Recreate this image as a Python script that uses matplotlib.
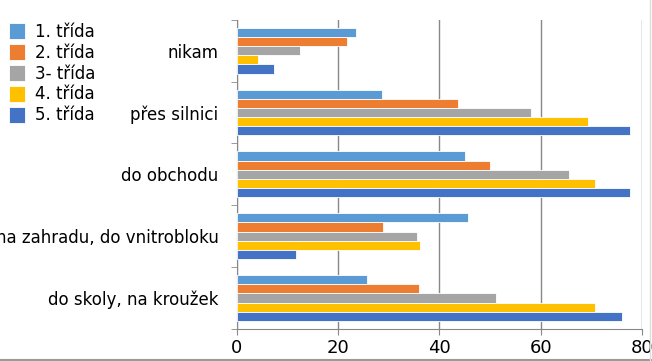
import numpy as np
import matplotlib.pyplot as plt

categories = ["nikam", "přes silnici", "do obchodu", "na zahradu, do vnitrobloku", "do skoly, na kroužek"]
series_names = ["1. třída", "2. třída", "3- třída", "4. třída", "5. třída"]
trida1 = [23.6, 28.7, 45.1, 45.7, 25.8]
trida2 = [21.8, 43.7, 49.9, 28.9, 36.0]
trida3 = [12.5, 58.0, 65.5, 35.6, 51.2]
trida4 = [4.3, 69.4, 70.6, 36.2, 70.6]
trida5 = [7.4, 77.5, 77.5, 11.7, 76.0]
x_ticks = [0, 20, 40, 60, 80]

colors = ["#5B9BD5", "#ED7D31", "#A5A5A5", "#FFC000", "#4472C4"]


def main():
    fig = plt.figure(figsize=(6.52, 3.61), dpi=100)
    ax = fig.add_axes([0.363, 0.089, 0.622, 0.856])

    series = [trida1, trida2, trida3, trida4, trida5]
    n = len(categories)
    centers = np.arange(n)
    bar_h = 0.148
    for i, (vals, name, col) in enumerate(zip(series, series_names, colors)):
        offs = (i - 2) * bar_h
        ax.barh(centers + offs, vals, height=bar_h, color=col, edgecolor="white",
                linewidth=0.6, label=name, zorder=3)

    ax.set_ylim(n - 0.5, -0.5)
    ax.set_xlim(0, 80)
    ax.set_xticks(x_ticks)
    ax.set_xticklabels([str(t) for t in x_ticks], fontsize=13)
    ax.set_yticks(centers)
    ax.set_yticklabels(categories, fontsize=12)
    ax.set_yticks(np.arange(n + 1) - 0.5, minor=True)
    ax.tick_params(axis="y", which="major", length=0, pad=13)
    ax.tick_params(axis="y", which="minor", length=4, color="#888888")
    ax.tick_params(axis="x", length=4, color="#888888", pad=3)

    ax.grid(axis="x", color="#888888", linewidth=1, zorder=0)
    for side in ["top", "right"]:
        ax.spines[side].set_visible(False)
    ax.spines["left"].set_color("#888888")
    ax.spines["bottom"].set_color("#888888")

    fig.legend(loc="upper left", bbox_to_anchor=(0.004, 0.955), frameon=False,
               fontsize=12, handlelength=0.95, handleheight=1.1, handletextpad=0.6,
               labelspacing=0.17, borderaxespad=0)

    # chart border lines at bottom and right edge
    fig.add_artist(plt.Line2D([0, 1], [0.003, 0.003], color="#999999", linewidth=1.5,
                              transform=fig.transFigure))
    fig.add_artist(plt.Line2D([0.997, 0.997], [0, 1], color="#dddddd", linewidth=1,
                              transform=fig.transFigure))

    fig.savefig("out.png", dpi=100)


if __name__ == "__main__":
    main()
